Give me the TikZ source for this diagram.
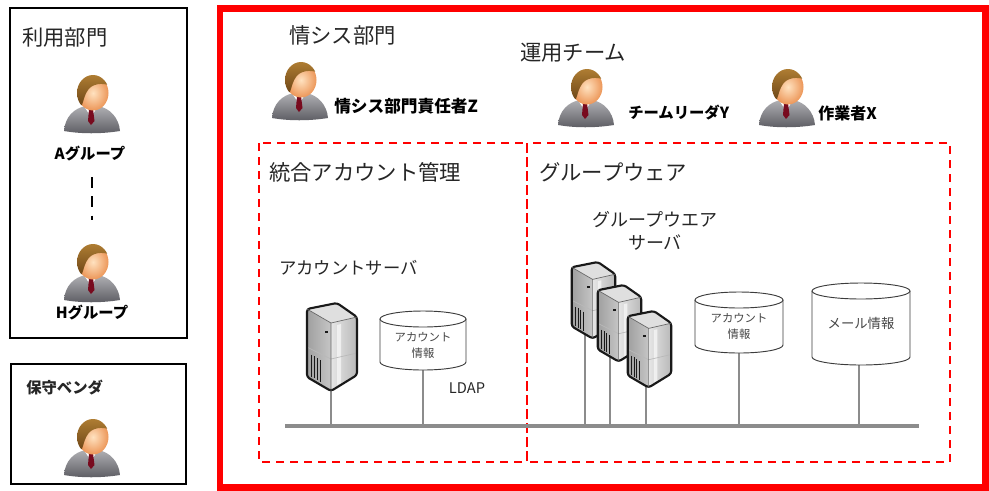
\documentclass[tikz,border=0pt]{standalone}
\usepackage{fontspec}
\setmainfont{Noto Sans CJK JP}
\definecolor{linegray}{RGB}{140,140,140}
\definecolor{framered}{RGB}{255,0,0}
\definecolor{skinlight}{RGB}{255,226,192}
\definecolor{skindark}{RGB}{236,150,88}
\definecolor{hairlight}{RGB}{178,128,52}
\definecolor{hairdark}{RGB}{112,72,24}
\definecolor{suitlight}{RGB}{176,176,180}
\definecolor{suitdark}{RGB}{92,92,98}
\definecolor{tiered}{RGB}{120,10,30}
\definecolor{dbline}{RGB}{60,60,60}
\begin{document}
\begin{tikzpicture}[x=0.75pt,y=-0.75pt,
  blackbox/.style={draw=black, line width=1.9pt},
  redframe/.style={draw=framered, line width=4.6pt},
  zone/.style={draw=framered, line width=1.9pt, dash pattern=on 6pt off 4.5pt},
  title/.style={anchor=west, inner sep=0pt, text=black!85, font=\fontsize{16}{18}\selectfont},
  who/.style={anchor=west, inner sep=0pt, font=\bfseries\fontsize{12}{14}\selectfont},
  group/.style={inner sep=0pt, font=\bfseries\fontsize{11.5}{13}\selectfont},
  caption/.style={inner sep=0pt, text=black!85, font=\fontsize{13}{15}\selectfont},
  dbtext/.style={inner sep=0pt, text=gray!55!black, font=\fontsize{8.5}{10}\selectfont},
  link/.style={draw=linegray, line width=2pt},
  cyl/.style={draw=dbline, line width=0.7pt},
  person/.pic={
    % suit
    \shade[top color=suitlight, bottom color=suitdark]
      (-27,38) .. controls (-26,24) and (-17,15) .. (-5,13) -- (7,13)
      .. controls (19,15) and (28,25) .. (29,38)
      .. controls (10,41) and (-10,41) .. (-27,38) -- cycle;
    % collar and tie
    \fill[white] (-7,13) -- (0,24) -- (7,13) -- cycle;
    \fill[tiered] (-2,16) -- (2,16) -- (3.5,28) -- (0,32) -- (-3,28) -- cycle;
    % head
    \shade[inner color=skinlight, outer color=skindark] (2,0) ellipse [x radius=15.5, y radius=17.5];
    \begin{scope}
      \clip (2,0) ellipse [x radius=16, y radius=18];
      \shade[top color=hairlight, bottom color=hairdark]
        (-18,-20) -- (20,-20) -- (20,-7) .. controls (11,-11) and (1,-9) .. (-3,-3)
        .. controls (-6,1) and (-7,6) .. (-9,12) -- (-18,12) -- cycle;
    \end{scope}
  },
  server/.pic={
    % top face
    \fill[gray!25] (2,6) -- (32,0) -- (52,14) -- (26,20) -- cycle;
    % front face
    \shade[left color=gray!75, right color=gray!45] (2,6) -- (26,20) -- (26,88) -- (2,74) -- cycle;
    % side face
    \shade[left color=gray!20, right color=gray!55] (26,20) -- (52,14) -- (52,72) -- (26,88) -- cycle;
    \fill[white, opacity=0.6] (32,22) -- (36,21) -- (36,80) -- (32,82) -- cycle;
    % vents and panel lines
    \foreach \v in {6,9,12,15} {
      \draw[gray!20!black, line width=0.4pt] (\v,48+\v*0.6) -- (\v,70+\v*0.6);
    }
    \draw[gray!55, line width=0.5pt] (2,44) -- (26,56) -- (52,50);
    \fill[gray!20!black] (20,28) rectangle (23,30);
    % outline
    \draw[black!90, line width=1.6pt, line join=round, rounded corners=2pt]
      (2,6) -- (32,0) -- (52,14) -- (52,72) -- (26,88) -- (2,74) -- cycle;
    \draw[black!60, line width=0.5pt] (2,6) -- (26,20) -- (52,14) (26,20) -- (26,88);
  }]
\useasboundingbox (0,0) rectangle (989,490);

% user department box
\draw[blackbox] (10,8) rectangle (187,338);
\node[title] (userdept) at (22,37) {利用部門};
\pic (pA) at (91,93) {person};
\node[group] (grpA) at (90,154) {Aグループ};
\coordinate (dotsTop) at (92,177);
\coordinate (dotsBot) at (92,220);
\draw[black, line width=1.7pt, dash pattern=on 8pt off 6.5pt] (dotsTop) -- (dotsBot);
\pic (pH) at (91,262) {person};
\node[group] (grpH) at (92,313) {Hグループ};

% vendor box
\draw[blackbox] (11,364) rectangle (186,484);
\node[title, font=\bfseries\fontsize{11.5}{13}\selectfont] (vendor) at (26,388) {保守ベンダ};
\pic (pV) at (91,437) {person};

% information systems division
\draw[redframe] (220,8.5) rectangle (985.5,487.5);
\node[title] (isdept) at (289,35) {情シス部門};
\node[title] (opsteam) at (520,53) {運用チーム};
\pic (pZ) at (299,80) {person};
\node[who, font=\bfseries\fontsize{12.5}{14}\selectfont] (mgrZ) at (334,106) {情シス部門責任者Z};
\pic (pY) at (585,87) {person};
\node[who, font=\bfseries\fontsize{11.5}{14}\selectfont] (leadY) at (628,113) {チームリーダY};
\pic (pX) at (786,87) {person};
\node[who] (workX) at (818,113) {作業者X};

% zones
\draw[zone] (259,143) rectangle (527,462);
\draw[zone] (527,143) rectangle (950,462);
\node[title] (acctzone) at (269,172) {統合アカウント管理};
\node[title] (gwzone) at (539,172) {グループウェア};

% network
\coordinate (busL) at (285,426);
\coordinate (busR) at (919,426);
\draw[link, line width=2.4pt] (busL) -- (busR);

% account server
\node[caption, anchor=west] (acctsrvlbl) at (279,268) {アカウントサーバ};
\coordinate (srvL) at (331,385);
\draw[link] (srvL) -- (srvL |- busL);
\pic at (305,303) {server};

% account directory
\coordinate (db1) at (423,370);
\draw[link] (db1) -- (db1 |- busL);
\fill[white] (380,319) -- (380,362) arc[start angle=180, end angle=0, x radius=43, y radius=8] -- (466,319) -- cycle;
\draw[cyl] (380,319) -- (380,362) arc[start angle=180, end angle=0, x radius=43, y radius=8] -- (466,319);
\draw[cyl, fill=white] (423,319) ellipse [x radius=43, y radius=8];
\node[dbtext] (db1a) at (423,337) {アカウント};
\node[dbtext] (db1b) at (423,353) {情報};
\node[caption, font=\fontsize{11}{13}\selectfont] (ldap) at (467,388) {LDAP};

% groupware servers
\node[caption, font=\fontsize{13.5}{15}\selectfont] (gwsrv1) at (655,220) {グループウエア};
\node[caption, font=\fontsize{13.5}{15}\selectfont] (gwsrv2) at (655,243) {サーバ};
\coordinate (s1) at (585,330);
\coordinate (s2) at (610,355);
\coordinate (s3) at (646,383);
\draw[link] (s1) -- (s1 |- busL);
\draw[link] (s2) -- (s2 |- busL);
\draw[link] (s3) -- (s3 |- busL);
\pic[scale=0.87] at (570,262) {server};
\pic[scale=0.87] at (596,285) {server};
\pic[scale=0.87] at (626,311) {server};

% groupware account data
\coordinate (db2) at (739,353);
\draw[link] (db2) -- (db2 |- busL);
\fill[white] (695,300) -- (695,345) arc[start angle=180, end angle=0, x radius=44, y radius=8] -- (783,300) -- cycle;
\draw[cyl] (695,300) -- (695,345) arc[start angle=180, end angle=0, x radius=44, y radius=8] -- (783,300);
\draw[cyl, fill=white] (739,300) ellipse [x radius=44, y radius=8];
\node[dbtext] (db2a) at (739,318) {アカウント};
\node[dbtext] (db2b) at (739,334) {情報};

% mail data
\coordinate (db3) at (859,365);
\draw[link] (db3) -- (db3 |- busL);
\fill[white] (812,291) -- (812,357) arc[start angle=180, end angle=0, x radius=49, y radius=8] -- (910,291) -- cycle;
\draw[cyl] (812,291) -- (812,357) arc[start angle=180, end angle=0, x radius=49, y radius=8] -- (910,291);
\draw[cyl, fill=white] (861,291) ellipse [x radius=49, y radius=8];
\node[dbtext, font=\fontsize{10}{12}\selectfont] (db3a) at (861,323) {メール情報};
\end{tikzpicture}
\end{document}
